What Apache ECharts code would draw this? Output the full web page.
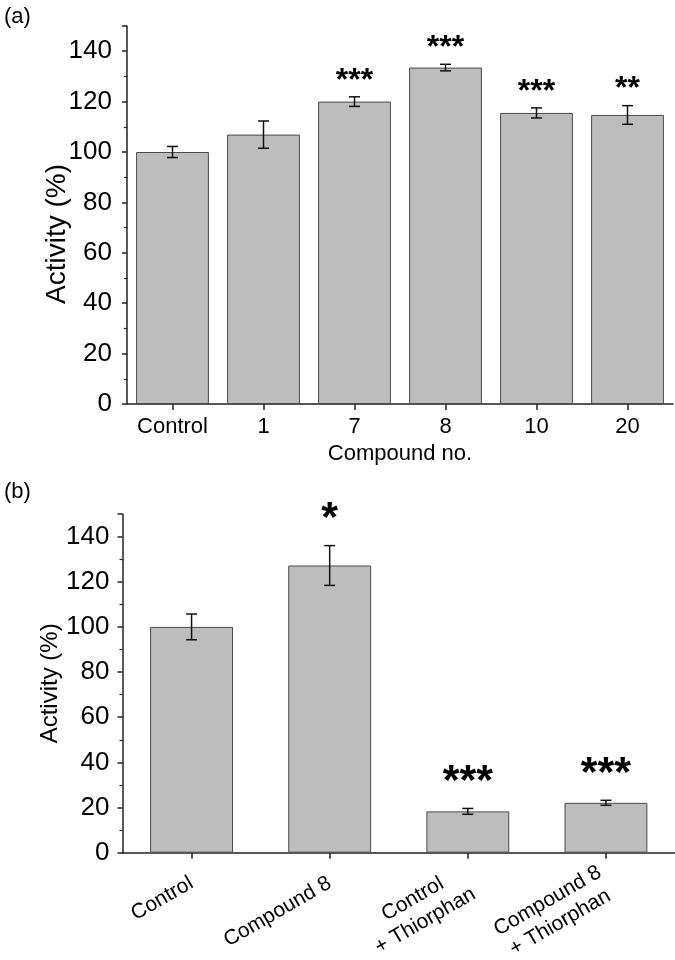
<!DOCTYPE html>
<html>
<head>
<meta charset="utf-8">
<script src="https://cdn.jsdelivr.net/npm/echarts@6/dist/echarts.min.js"></script>
<style>
html,body{margin:0;padding:0;background:#fff;}
#chart{width:675px;height:960px;}
</style>
</head>
<body>
<div id="chart"></div>
<script>
// ---- data ----
const catsA = ['Control', '1', '7', '8', '10', '20'];
const valsA = [100, 106.9, 120, 133.5, 115.5, 114.7];
const errA  = [2.2, 5.4, 1.9, 1.3, 2.0, 3.7];
const sigA  = ['', '', '***', '***', '***', '**'];

const catsB = ['Control', 'Compound 8', 'Control\n+ Thiorphan', 'Compound 8\n+ Thiorphan'];
const valsB = [100, 127.2, 18.3, 22.1];
const errB  = [5.7, 8.8, 1.3, 1.1];
const sigB  = ['', '*', '***', '***'];

const yTicks = [0, 20, 40, 60, 80, 100, 120, 140];

// ---- styling ----
const FONT = 'Liberation Sans, Arial, Helvetica, sans-serif';
const AX = '#222';

function yAxisCfg(gi, nameSize, nameGap, namePad, labelMargin) {
  return {
    gridIndex: gi, type: 'value', min: 0, max: 150, interval: 20,
    axisLine: {show: true, lineStyle: {color: AX, width: 1.5}},
    axisTick: {show: true, length: 5, lineStyle: {color: AX, width: 1.5}},
    minorTick: {show: true, splitNumber: 2, length: 3, lineStyle: {color: AX, width: 1.2}},
    splitLine: {show: false},
    axisLabel: {fontSize: 26, color: '#000', margin: labelMargin, fontFamily: FONT,
      formatter: v => yTicks.indexOf(v) >= 0 ? String(v) : ''},
    name: 'Activity (%)', nameLocation: 'middle', nameGap: nameGap, nameMoveOverlap: false,
    nameTextStyle: {fontSize: nameSize, color: '#000', fontFamily: FONT, padding: namePad}
  };
}

function errSeries(gi, vals, errs, sigs, fontSize, gap) {
  return {
    type: 'custom', xAxisIndex: gi, yAxisIndex: gi, silent: true, z: 5,
    data: vals.map((v, i) => [i, v, errs[i]]),
    renderItem: (params, api) => {
      const i = api.value(0), v = api.value(1), e = api.value(2);
      const top = api.coord([i, v + e]);
      const bot = api.coord([i, v - e]);
      const hw = 5.5;
      const ls = {stroke: '#111', lineWidth: 1.5};
      const children = [
        {type: 'line', shape: {x1: top[0], y1: top[1], x2: bot[0], y2: bot[1]}, style: ls},
        {type: 'line', shape: {x1: top[0] - hw, y1: top[1], x2: top[0] + hw, y2: top[1]}, style: ls},
        {type: 'line', shape: {x1: bot[0] - hw, y1: bot[1], x2: bot[0] + hw, y2: bot[1]}, style: ls}
      ];
      const s = sigs[params.dataIndex];
      if (s) {
        children.push({type: 'text', x: top[0], y: top[1] - gap,
          style: {text: s, fill: '#000', font: 'bold ' + fontSize + 'px ' + FONT, align: 'center', verticalAlign: 'middle'}});
      }
      return {type: 'group', children: children};
    }
  };
}

const chart = echarts.init(document.getElementById('chart'), null, {renderer: 'canvas'});
chart.setOption({
  animation: false,
  backgroundColor: '#fff',
  title: [
    {text: '(a)', left: -1, top: 1, textStyle: {fontSize: 22, fontWeight: 'normal', color: '#000', fontFamily: FONT}},
    {text: '(b)', left: -1, top: 476, textStyle: {fontSize: 22, fontWeight: 'normal', color: '#000', fontFamily: FONT}}
  ],
  grid: [
    {left: 127, right: 2, top: 26, bottom: 556, outerBoundsMode: 'none', containLabel: false},
    {left: 122.5, right: 0, top: 514, bottom: 107.3, outerBoundsMode: 'none', containLabel: false}
  ],
  xAxis: [
    {gridIndex: 0, type: 'category', data: catsA,
      axisLine: {show: true, lineStyle: {color: AX, width: 1.5}},
      axisTick: {show: true, alignWithLabel: true, length: 6, lineStyle: {color: AX, width: 1.5}},
      axisLabel: {fontSize: 22, color: '#000', margin: 12, fontFamily: FONT, interval: 0},
      name: 'Compound no.', nameLocation: 'middle', nameGap: 39, nameMoveOverlap: false,
      nameTextStyle: {fontSize: 22, color: '#000', fontFamily: FONT}},
    {gridIndex: 1, type: 'category', data: catsB,
      axisLine: {show: true, lineStyle: {color: AX, width: 1.5}},
      axisTick: {show: true, alignWithLabel: true, length: 6, lineStyle: {color: AX, width: 1.5}},
      axisLabel: {fontSize: 21, color: '#000', margin: 29, fontFamily: FONT, interval: 0, rotate: 30,
        formatter: v => v.split('\n').map(t => '{c|' + t + '}').join('\n'),
        rich: {c: {fontSize: 21, color: '#000', fontFamily: FONT, align: 'center', lineHeight: 25}}}}
  ],
  yAxis: [yAxisCfg(0, 28, 56, [0, 38, 0, 0], 15), yAxisCfg(1, 24, 60, [0, 0, 0, 0], 13)],
  series: [
    {type: 'bar', xAxisIndex: 0, yAxisIndex: 0, data: valsA, barCategoryGap: '20%',
      itemStyle: {color: '#bdbdbd', borderColor: '#4a4a4a', borderWidth: 1}},
    errSeries(0, valsA, errA, sigA, 32, 16),
    {type: 'bar', xAxisIndex: 1, yAxisIndex: 1, data: valsB, barCategoryGap: '40%',
      itemStyle: {color: '#bdbdbd', borderColor: '#4a4a4a', borderWidth: 1}},
    errSeries(1, valsB, errB, sigB, 43, 26)
  ]
});
</script>
</body>
</html>
